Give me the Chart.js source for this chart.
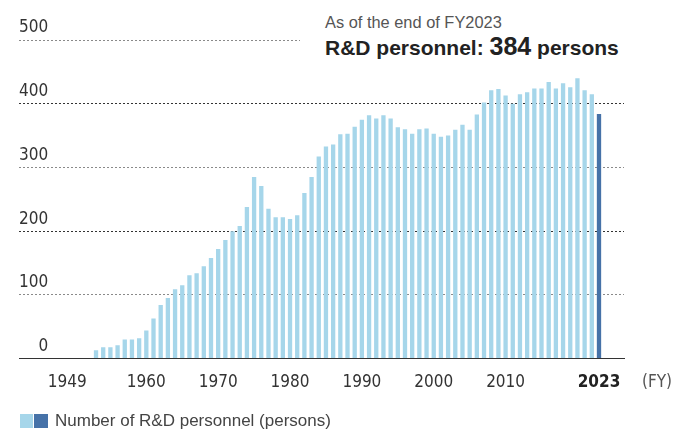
<!DOCTYPE html>
<html>
<head>
<meta charset="utf-8">
<script src="https://cdn.jsdelivr.net/npm/chart.js@4"></script>
<style>
    body { margin: 0; background: #fff; }
    #wrap { position: relative; width: 674px; height: 430px; overflow: hidden; font-family: "Liberation Sans", Arial, sans-serif; }
    #chart { position: absolute; left: 0; top: 0; }
    .note { position: absolute; left: 300px; top: 6px; width: 340px; height: 54px; background: #fff; }
    .note .sub { position: absolute; left: 25px; top: 8px; font-size: 16.4px; line-height: 16px; color: #555; white-space: nowrap; }
    .note .main { position: absolute; left: 25px; top: 28px; font-size: 21px; line-height: 25px; font-weight: bold; color: #222; white-space: nowrap; }
    .note .main .num { font-size: 25px; }
    .fy { position: absolute; left: 642px; top: 371px; font-family: "DejaVu Sans Condensed", "Liberation Sans", sans-serif; font-size: 17px; color: #555; white-space: nowrap; }
    .legend { position: absolute; left: 20px; top: 414px; height: 14px; }
    .legend .sw { position: absolute; top: 0; height: 14px; }
    .legend .txt { position: absolute; left: 35px; top: -2px; font-size: 17px; line-height: 17px; color: #444; white-space: nowrap; }
</style>
</head>
<body>
<div id="wrap">
    <canvas id="chart" width="674" height="430"></canvas>
    <div class="note">
        <div class="sub">As of the end of FY2023</div>
        <div class="main">R&amp;D personnel: <span class="num">384</span> persons</div>
    </div>
    <div class="fy">(FY)</div>
    <div class="legend">
        <div class="sw" style="left:0;width:13px;background:#a6d6ea"></div>
        <div class="sw" style="left:14px;width:14px;background:#4672a8"></div>
        <div class="txt">Number of R&amp;D personnel (persons)</div>
    </div>
</div>
<script>
// fiscal years with data
const years = [
    1953, 1954, 1955, 1956, 1957, 1958, 1959, 1960, 1961, 1962,
    1963, 1964, 1965, 1966, 1967, 1968, 1969, 1970, 1971, 1972,
    1973, 1974, 1975, 1976, 1977, 1978, 1979, 1980, 1981, 1982,
    1983, 1984, 1985, 1986, 1987, 1988, 1989, 1990, 1991, 1992,
    1993, 1994, 1995, 1996, 1997, 1998, 1999, 2000, 2001, 2002,
    2003, 2004, 2005, 2006, 2007, 2008, 2009, 2010, 2011, 2012,
    2013, 2014, 2015, 2016, 2017, 2018, 2019, 2020, 2021, 2022,
    2023
];

// R&D personnel (persons)
const personnel = [
    13, 18, 18, 21, 30, 30, 32, 44, 63, 84,
    95, 109, 115, 131, 134, 145, 158, 172, 186, 200,
    208, 238, 285, 271, 235, 222, 222, 219, 225, 260,
    285, 317, 333, 336, 352, 353, 364, 375, 382, 377,
    382, 377, 363, 360, 353, 360, 361, 353, 348, 350,
    359, 367, 359, 383, 402, 421, 423, 413, 400, 415,
    418, 424, 424, 434, 424, 432, 426, 440, 421, 415,
    384
];

const tickYears = [1949, 1960, 1970, 1980, 1990, 2000, 2010, 2023];
const yTicks = [0, 100, 200, 300, 400, 500];
const latestYear = 2023;

const lightBlue = '#a6d6ea';
const darkBlue = '#4672a8';
const narrowFont = "'DejaVu Sans Condensed', 'Liberation Sans', sans-serif";

const ctx = document.getElementById('chart').getContext('2d');
new Chart(ctx, {
    type: 'bar',
    data: {
        datasets: [{
            label: 'Number of R&D personnel (persons)',
            data: years.map((yr, i) => ({ x: yr, y: personnel[i] })),
            backgroundColor: c => (c.raw && c.raw.x === latestYear) ? darkBlue : lightBlue,
            borderWidth: 0,
            categoryPercentage: 1,
            barPercentage: 0.6
        }]
    },
    options: {
        responsive: false,
        animation: false,
        layout: { padding: { left: 19, right: 50, top: 40, bottom: 23 } },
        plugins: {
            legend: { display: false },
            tooltip: { enabled: false }
        },
        scales: {
            x: {
                type: 'linear',
                min: 1942.28,
                max: 2026.48,
                offset: false,
                grid: { display: false, drawTicks: false },
                border: { display: true, color: '#333', width: 1 },
                afterBuildTicks: axis => { axis.ticks = tickYears.map(v => ({ value: v })); },
                ticks: {
                    autoSkip: false,
                    maxRotation: 0,
                    padding: 14,
                    callback: v => String(v),
                    color: c => (c.tick && c.tick.value === latestYear) ? '#222' : '#333',
                    font: c => ({
                        family: narrowFont,
                        size: 17,
                        weight: (c.tick && c.tick.value === latestYear) ? 'bold' : 'normal'
                    })
                }
            },
            y: {
                min: 0,
                max: 500,
                afterBuildTicks: axis => { axis.ticks = yTicks.map(v => ({ value: v })); },
                grid: {
                    drawTicks: false,
                    lineWidth: 1,
                    color: c => {
                        const v = c.tick ? c.tick.value : 0;
                        if (v === 0) return 'rgba(0,0,0,0)';
                        return (v === 200 || v === 400) ? '#333' : '#8a8a8a';
                    }
                },
                border: { display: false, dash: [2, 2] },
                ticks: {
                    mirror: true,
                    crossAlign: 'far',
                    padding: 0,
                    labelOffset: -12,
                    color: '#333',
                    font: { family: narrowFont, size: 17 }
                }
            }
        }
    }
});
</script>
</body>
</html>
